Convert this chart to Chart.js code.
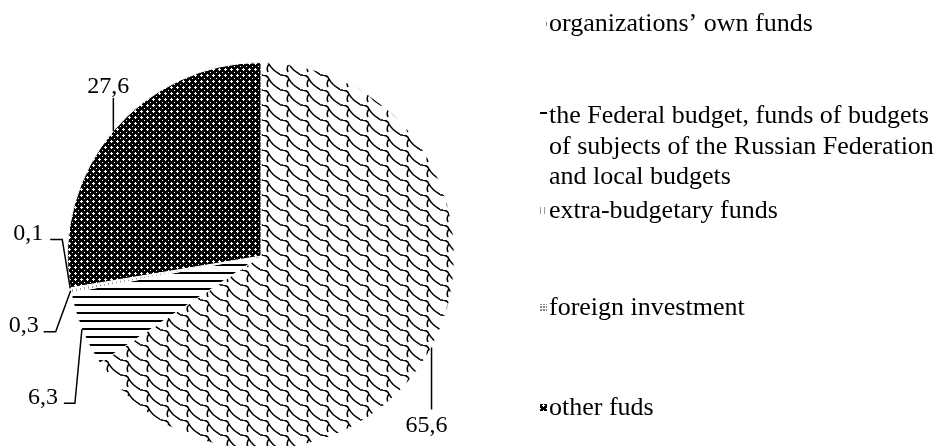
<!DOCTYPE html>
<html lang="en">
<head>
  <meta charset="UTF-8">
  <title>Sources of funds</title>
  <script src="https://cdn.jsdelivr.net/npm/chart.js@4.4.0/dist/chart.umd.min.js"></script>
  <style>
    html, body { margin: 0; padding: 0; background: #fff; overflow: hidden; }
    #wrap { width: 938px; height: 446px; overflow: hidden; }
  </style>
</head>
<body>
  <div id="wrap"><canvas id="pie" width="938" height="460"></canvas></div>

  <script>
    const categories = [
      "organizations’ own funds",
      "the Federal budget, funds of budgets\nof subjects of the Russian Federation\nand local budgets",
      "extra-budgetary funds",
      "foreign investment",
      "other fuds"
    ]
    const shares = [65.6, 6.3, 0.3, 0.1, 27.6]
    const valueLabels = ["65,6", "6,3", "0,3", "0,1", "27,6"]

    const SERIF = '"Liberation Serif", "Times New Roman", serif'
    const canvas = document.getElementById("pie")
    const ctx = canvas.getContext("2d")

    function makePattern(w, h, draw) {
      const c = document.createElement("canvas")
      c.width = w
      c.height = h
      const g = c.getContext("2d")
      g.fillStyle = "#fff"
      g.fillRect(0, 0, w, h)
      draw(g)
      return ctx.createPattern(c, "repeat")
    }

    // shingle-like scales
    const shingle = makePattern(20, 15, g => {
      g.strokeStyle = "#000"
      g.lineWidth = 1.6
      g.beginPath()
      g.moveTo(-1, 0)
      g.quadraticCurveTo(7, -1, 9, 4)
      g.quadraticCurveTo(12, 10, 21, 15)
      g.moveTo(9, 4)
      g.quadraticCurveTo(6, 8, 8, 12)
      g.moveTo(-1, 15)
      g.lineTo(3, 15)
      g.stroke()
    })

    // horizontal stripes
    const stripes = makePattern(4, 8, g => {
      g.fillStyle = "#000"
      g.fillRect(0, 0, 4, 2)
    })

    // light vertical lines
    const vlines = makePattern(4, 4, g => {
      g.fillStyle = "#999"
      g.fillRect(0, 0, 1, 4)
    })

    // light dots
    const dots = makePattern(3, 3, g => {
      g.fillStyle = "#888"
      g.fillRect(0, 0, 2, 2)
    })

    // dense dark lattice
    const lattice = makePattern(6, 6, g => {
      g.fillStyle = "#000"
      g.fillRect(0, 0, 6, 6)
      g.fillStyle = "#fff"
      g.fillRect(3, 2, 1, 3)
      g.fillRect(2, 3, 3, 1)
      g.fillRect(0, 0, 1, 1)
    })

    const fills = [shingle, stripes, vlines, dots, lattice]

    // leader lines: elbow offset from arc edge, horizontal run, text offset
    const leaders = [
      { ex: 0,   ey: 62,  hx: 0,   tx: -5, ty: 23, align: "center" },
      { ex: -7,  ey: 74,  hx: -11, tx: -6, ty: 1,  align: "right" },
      { ex: -15, ey: 41,  hx: -12, tx: -5, ty: 0,  align: "right" },
      { ex: -8,  ey: -49, hx: -12, tx: -7, ty: 1,  align: "right" },
      { ex: 0,   ey: -33, hx: 0,   tx: -5, ty: -5, align: "center" }
    ]

    const valueLabelPlugin = {
      id: "valueLabels",
      afterDatasetsDraw(chart) {
        const c = chart.ctx
        const meta = chart.getDatasetMeta(0)
        c.save()
        c.strokeStyle = "#000"
        c.lineWidth = 1.5
        c.fillStyle = "#000"
        c.font = "24px " + SERIF
        c.textBaseline = "alphabetic"
        meta.data.forEach((arc, i) => {
          const p = arc.getProps(["x", "y", "startAngle", "endAngle", "outerRadius"], true)
          const mid = (p.startAngle + p.endAngle) / 2
          const ax = p.x + Math.cos(mid) * p.outerRadius
          const ay = p.y + Math.sin(mid) * p.outerRadius
          const L = leaders[i]
          const bx = ax + L.ex, by = ay + L.ey
          const ex = bx + L.hx
          c.beginPath()
          c.moveTo(ax, ay)
          c.lineTo(bx, by)
          c.lineTo(ex, by)
          c.stroke()
          c.textAlign = L.align
          c.fillText(valueLabels[i], ex + L.tx, by + L.ty)
        })
        c.restore()
      }
    }

    // legend rows: baseline of first line for each item
    const legendY = [31, 123, 218, 315, 415]
    const legendPlugin = {
      id: "sideLegend",
      afterDraw(chart) {
        const c = chart.ctx
        c.save()
        c.font = "26px " + SERIF
        c.textBaseline = "alphabetic"
        c.textAlign = "left"
        categories.forEach((name, i) => {
          const y = legendY[i]
          c.fillStyle = fills[i]
          c.fillRect(540, y - 11, 7, 7)
          c.fillStyle = "#000"
          name.split("\n").forEach((line, k) => {
            c.fillText(line, 549, y + k * 30.5)
          })
        })
        c.restore()
      }
    }

    new Chart(canvas, {
      type: "pie",
      data: {
        labels: categories,
        datasets: [{
          data: shares,
          backgroundColor: fills,
          borderColor: "#fff",
          borderWidth: 1
        }]
      },
      options: {
        responsive: false,
        animation: false,
        layout: { padding: { left: 67, top: 62, right: 483, bottom: 10 } },
        plugins: {
          legend: { display: false },
          tooltip: { enabled: false }
        }
      },
      plugins: [valueLabelPlugin, legendPlugin]
    })
  </script>
</body>
</html>
